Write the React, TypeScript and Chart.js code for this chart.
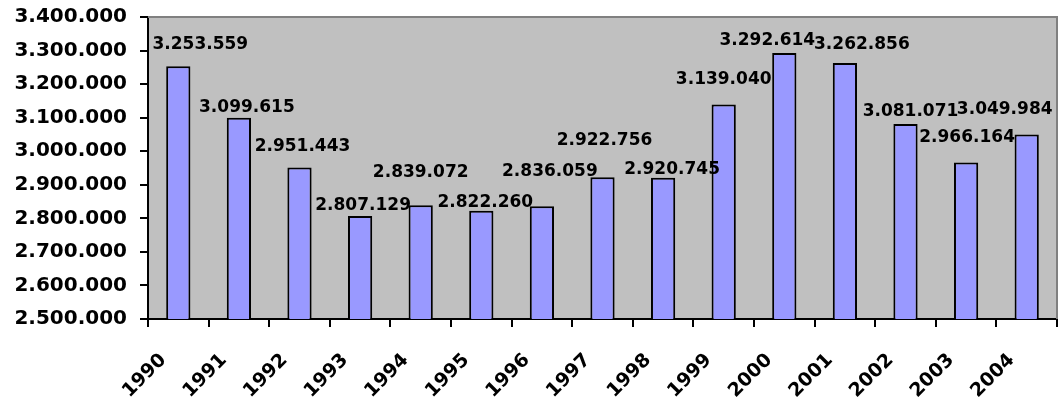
import React, { useEffect, useRef } from "react";
import { Chart, registerables } from "chart.js";

Chart.register(...registerables);

// ---- data ----
const years = ["1990", "1991", "1992", "1993", "1994", "1995", "1996", "1997", "1998", "1999", "2000", "2001", "2002", "2003", "2004"];
const values = [3253559, 3099615, 2951443, 2807129, 2839072, 2822260, 2836059, 2922756, 2920745, 3139040, 3292614, 3262856, 3081071, 2966164, 3049984];
const yMin = 2500000;
const yMax = 3400000;
const yStep = 100000;

// manual label placement (pixel offsets from the bar's top-centre), as in the original
const labelDx = [22, 8, 3, 3, 0, 4, 8, 2, 9, 0, -17, 17, 5, 1, -22];
const labelDy = [-22, -10, -21, -10, -33, -8, -35, -37, -8, -25, -12, -18, -12, -25, -25];

const FONT = "'DejaVu Sans', sans-serif";

function fmt(n: number): string {
  return Math.round(n).toString().replace(/\B(?=(\d{3})+(?!\d))/g, ".");
}

const plotDecor = {
  id: "plotDecor",
  beforeDraw(chart: any) {
    const { ctx, chartArea } = chart;
    const { left, top, right, bottom } = chartArea;
    ctx.save();
    ctx.fillStyle = "#C0C0C0";
    ctx.fillRect(left, top, right - left, bottom - top);
    ctx.restore();
  },
  beforeDatasetsDraw(chart: any) {
    const { ctx, chartArea } = chart;
    const { left, top, right, bottom } = chartArea;
    ctx.save();
    ctx.strokeStyle = "#808080";
    ctx.lineWidth = 2;
    ctx.beginPath();
    ctx.moveTo(left, top);
    ctx.lineTo(right, top);
    ctx.lineTo(right, bottom);
    ctx.stroke();
    ctx.restore();
  },
  afterDatasetsDraw(chart: any) {
    const { ctx } = chart;
    const meta = chart.getDatasetMeta(0);
    ctx.save();
    ctx.font = `bold 17px ${FONT}`;
    ctx.fillStyle = "#000000";
    ctx.textAlign = "center";
    ctx.textBaseline = "middle";
    meta.data.forEach((bar: any, i: number) => {
      ctx.fillText(fmt(values[i]), bar.x + labelDx[i], bar.y + labelDy[i]);
    });
    ctx.restore();
  },
};

export default function App() {
  const canvasRef = useRef<HTMLCanvasElement | null>(null);

  useEffect(() => {
    if (!canvasRef.current) return;
    const chart = new Chart(canvasRef.current, {
      type: "bar",
      data: {
        labels: years,
        datasets: [
          {
            data: values,
            backgroundColor: "#9999FF",
            borderColor: "#000000",
            borderWidth: 2,
            categoryPercentage: 1,
            barPercentage: 0.4,
          },
        ],
      },
      options: {
        responsive: false,
        animation: false,
        devicePixelRatio: 1,
        layout: { padding: { top: 17, right: 4, left: 0, bottom: 0 } },
        plugins: {
          legend: { display: false },
          tooltip: { enabled: false },
        },
        scales: {
          x: {
            offset: true,
            grid: {
              offset: true,
              display: true,
              drawOnChartArea: false,
              drawTicks: true,
              tickLength: 8,
              color: "#000000",
              lineWidth: 2,
            },
            border: { display: true, color: "#000000", width: 2 },
            ticks: {
              font: { family: FONT, size: 19, weight: "bold" },
              color: "#000000",
              minRotation: 45,
              maxRotation: 45,
              autoSkip: false,
              padding: 22,
              labelOffset: -15,
            },
            afterFit(scale: any) {
              scale.height = 88;
              scale.paddingLeft = 0;
              scale.paddingRight = 0;
              scale.paddingTop = 0;
              scale.paddingBottom = 0;
            },
          },
          y: {
            min: yMin,
            max: yMax,
            grid: {
              display: true,
              drawOnChartArea: false,
              drawTicks: true,
              tickLength: 8,
              color: "#000000",
              lineWidth: 2,
            },
            border: { display: true, color: "#000000", width: 2 },
            ticks: {
              stepSize: yStep,
              font: { family: FONT, size: 20, weight: "bold" },
              color: "#000000",
              padding: 13,
              callback: (v: any) => fmt(Number(v)),
            },
            afterFit(scale: any) {
              scale.width = 148;
              scale.paddingLeft = 0;
              scale.paddingRight = 0;
              scale.paddingTop = 0;
              scale.paddingBottom = 0;
            },
          },
        },
      },
      plugins: [plotDecor],
    });
    return () => chart.destroy();
  }, []);

  return (
    <div style={{ position: "absolute", left: 0, top: 0, width: 1061, height: 407, background: "#ffffff" }}>
      <canvas ref={canvasRef} width={1061} height={407} />
    </div>
  );
}
